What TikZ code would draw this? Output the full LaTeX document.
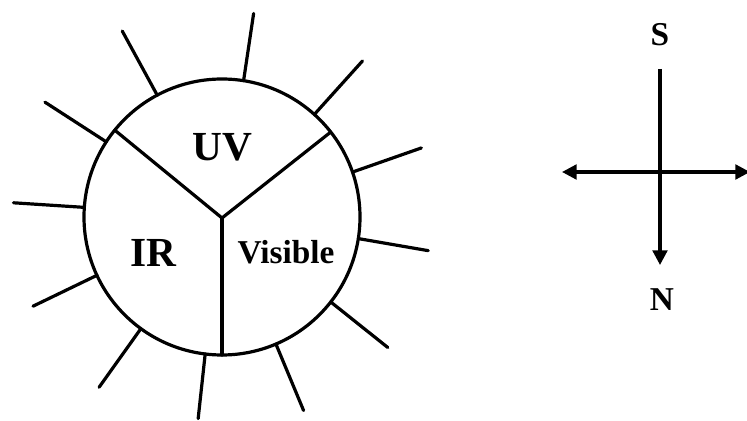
\documentclass[tikz,border=0pt]{standalone}
\usepackage{fontspec}
\setmainfont{Liberation Serif}
\usetikzlibrary{arrows.meta}

\tikzset{
  stroke/.style={line width=2.4pt, line cap=round},
  bigtxt/.style={font=\fontsize{31}{31}\selectfont\bfseries, inner sep=0pt},
  midtxt/.style={font=\fontsize{25}{25}\selectfont\bfseries, inner sep=0pt},
  ctip/.tip={Triangle[length=11pt,width=11pt]}
}

\begin{document}
\begin{tikzpicture}[x=0.75pt,y=0.75pt]
\useasboundingbox (0,0) rectangle (747,421);

% the disc and its three sectors
\node (disc) [stroke, draw, circle, minimum size=207pt, inner sep=0pt, outer sep=0pt] at (222,204) {};
\draw[stroke] (222,203) -- (disc.141);
\draw[stroke] (222,203) -- (disc.38);
\draw[stroke] (222,203) -- (disc.270);

\node (uv)  [bigtxt] at (222.5,273.5) {UV};
\node (ir)  [bigtxt] at (153.5,168.5) {IR};
\node (vis) [midtxt] at (286,169)     {Visible};

% rays round the disc
\foreach \a/\l in {81.5/68, 48/72, 19.3/73, -9.8/71, -38.6/73, -67.4/72,
                   263.8/65, 234.5/72, 205.8/71, 176.3/71, 147.1/73, 118.6/73}
  \draw[stroke] (disc.\a) -- ++(\a:\l);

% compass
\node (s) [midtxt] at (660,386) {S};
\node (n) [midtxt] at (662,121) {N};
\coordinate (top)   at (660,352);
\coordinate (bot)   at (660,156);
\coordinate (west)  at (562,249);
\coordinate (east)  at (750,249);

\draw[stroke, line cap=butt, -{ctip}] (top) -- (bot);
\draw[stroke, line cap=butt, {ctip}-{ctip}] (west) -- (east);
\end{tikzpicture}
\end{document}
